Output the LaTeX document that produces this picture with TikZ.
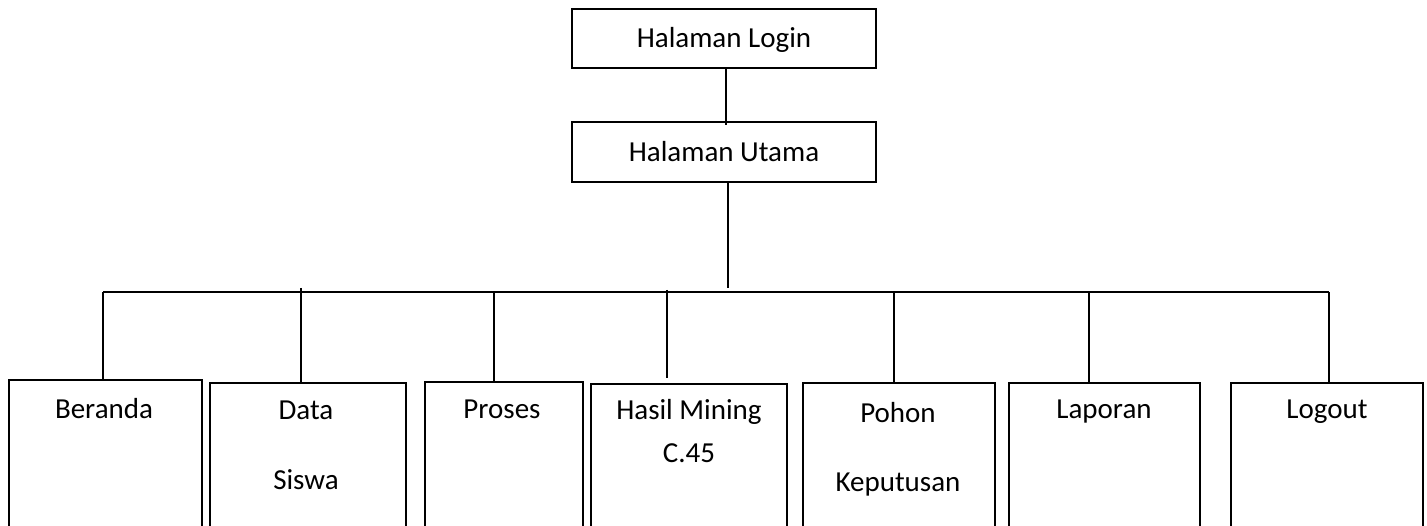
\documentclass[tikz,border=0pt]{standalone}
\usepackage{fontspec}
\setmainfont{Carlito}
\begin{document}
\begin{tikzpicture}[x=1pt,y=-1pt,
  box/.style={draw,line width=1.6pt,rectangle,inner sep=0pt},
  conn/.style={line width=1.6pt},
  lbl/.style={anchor=base,inner sep=0pt,font=\fontsize{29}{35}\selectfont}]
\useasboundingbox (0,0) rectangle (1427,526);
\clip (0,0) rectangle (1427,526);
% top boxes
\node[box,minimum width=304pt,minimum height=59pt] (login) at (724,38.5) {};
\node[box,minimum width=304pt,minimum height=60pt] (utama) at (724,152) {};
\node[lbl] (tlogin) at (724,48) {Halaman Login};
\node[lbl] (tutama) at (724,162) {Halaman Utama};
% bottom boxes (extend past lower edge)
\node[box,anchor=north west,minimum width=193pt,minimum height=170pt] (beranda) at (8,379) {};
\node[box,anchor=north west,minimum width=196pt,minimum height=170pt] (data) at (209,382) {};
\node[box,anchor=north west,minimum width=158pt,minimum height=170pt] (proses) at (424,381) {};
\node[box,anchor=north west,minimum width=196pt,minimum height=170pt] (hasil) at (590,383) {};
\node[box,anchor=north west,minimum width=192pt,minimum height=170pt] (pohon) at (802,382) {};
\node[box,anchor=north west,minimum width=191pt,minimum height=170pt] (laporan) at (1008,382) {};
\node[box,anchor=north west,minimum width=192pt,minimum height=170pt] (logout) at (1230,382) {};
% labels
\node[lbl] (t1) at (104,418) {Beranda};
\node[lbl] (t2a) at (306,420) {Data};
\node[lbl] (t2b) at (306,489) {Siswa};
\node[lbl] (t3) at (502,418) {Proses};
\node[lbl] (t4a) at (689,420) {Hasil Mining};
\node[lbl] (t4b) at (689,462) {C.45};
\node[lbl] (t5a) at (898,422) {Pohon};
\node[lbl] (t5b) at (898,491) {Keputusan};
\node[lbl] (t6) at (1104,418) {Laporan};
\node[lbl] (t7) at (1327,418) {Logout};
% connectors
\coordinate (busL) at (103,292);
\coordinate (busR) at (1329,292);
\coordinate (busM) at (728,288);
\draw[conn] (726,68) coordinate (lu1) -- (726,125) coordinate (lu2);
\draw[conn] (utama.south -| busM) -- (busM);
\draw[conn] (busL) -- (busR);
\draw[conn] (busL) -- (beranda.north -| busL);
\draw[conn] (301,288) coordinate (d1) -- (data.north -| d1);
\draw[conn] (494,292) coordinate (p1) -- (proses.north -| p1);
\draw[conn] (667,290) coordinate (h1) -- (667,378);
\draw[conn] (894,292) coordinate (k1) -- (pohon.north -| k1);
\draw[conn] (1089,292) coordinate (l1) -- (laporan.north -| l1);
\draw[conn] (busR) -- (logout.north -| busR);
\end{tikzpicture}
\end{document}
